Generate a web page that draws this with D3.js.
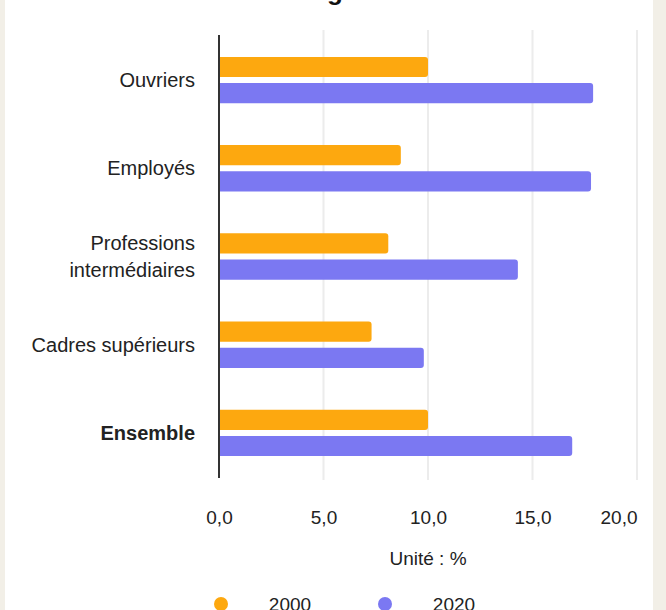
<!DOCTYPE html>
<html>
<head>
<meta charset="utf-8">
<script src="https://cdn.jsdelivr.net/npm/d3@7"></script>
<style>
  body { margin: 0; background: #f2efe7; }
  svg { display: block; font-family: "Liberation Sans", Arial, Helvetica, sans-serif; }
</style>
</head>
<body>
<div id="chart"></div>
<script>
var categories = ["Ouvriers", "Employés", "Professions\nintermédiaires", "Cadres supérieurs", "Ensemble"];
var years = ["2000", "2020"];
var values2000 = [10.0, 8.7, 8.1, 7.3, 10.0];
var values2020 = [17.9, 17.8, 14.3, 9.8, 16.9];
var xTicks = [0, 5, 10, 15, 20];

var colors = { "2000": "#fda80f", "2020": "#7b78f2" };

var svgWidth = 666;
var svgHeight = 610;

var plot = { left: 219, right: 637, top: 36, bottom: 477 };

var svg = d3.select("#chart")
    .append("svg")
    .attr("width", svgWidth)
    .attr("height", svgHeight);

// white card over the beige page
svg.append("rect")
    .attr("x", 5)
    .attr("y", 0)
    .attr("width", 648)
    .attr("height", svgHeight)
    .attr("fill", "#ffffff");

// title, cut off at the top of the picture
svg.append("text")
    .attr("x", 335)
    .attr("y", 0)
    .attr("text-anchor", "middle")
    .attr("font-size", "26px")
    .attr("font-weight", "bold")
    .attr("fill", "#111")
    .text("g");

var data = categories.map(function(c, i) {
    return { cat: c, bold: i === categories.length - 1, vals: [
        { year: "2000", value: values2000[i] },
        { year: "2020", value: values2020[i] }
    ] };
});

var x = d3.scaleLinear()
    .domain([0, 20])
    .range([plot.left, plot.right]);

var y = d3.scaleBand()
    .domain(categories)
    .range([plot.top, plot.bottom])
    .paddingInner(0.474)
    .paddingOuter(0.237);

var ySub = d3.scaleBand()
    .domain(years)
    .range([0, y.bandwidth()])
    .paddingInner(0.23);

// gridlines
svg.append("g")
    .selectAll("line")
    .data(xTicks.slice(1))
    .enter()
    .append("line")
    .attr("x1", d => x(d))
    .attr("x2", d => x(d))
    .attr("y1", plot.top - 6)
    .attr("y2", plot.bottom + 3)
    .attr("stroke", "#ececec")
    .attr("stroke-width", 2);

// x tick labels
var xAxis = d3.axisBottom(x)
    .tickValues(xTicks)
    .tickSize(0)
    .tickFormat(d => d3.format(".1f")(d).replace(".", ","));

var gx = svg.append("g")
    .attr("transform", `translate(0, ${plot.bottom + 30})`)
    .call(xAxis);
gx.select(".domain").remove();
gx.selectAll("text")
    .attr("font-size", "19px")
    .attr("fill", "#222")
    .attr("font-family", "Liberation Sans, Arial, sans-serif")
    .attr("text-anchor", d => d === 20 ? "end" : "middle");

svg.append("text")
    .attr("x", (plot.left + plot.right) / 2)
    .attr("y", 565)
    .attr("text-anchor", "middle")
    .attr("font-size", "19px")
    .attr("fill", "#222")
    .text("Unité : %");

// bars with rounded right end
function barPath(x0, y0, w, h, r) {
    r = Math.min(r, w, h / 2);
    return `M${x0},${y0}H${x0 + w - r}Q${x0 + w},${y0} ${x0 + w},${y0 + r}` +
        `V${y0 + h - r}Q${x0 + w},${y0 + h} ${x0 + w - r},${y0 + h}H${x0}Z`;
}

var groups = svg.append("g")
    .selectAll("g")
    .data(data)
    .enter()
    .append("g")
    .attr("transform", d => `translate(0, ${y(d.cat)})`);

groups.selectAll("path")
    .data(d => d.vals)
    .enter()
    .append("path")
    .attr("d", d => barPath(x(0), ySub(d.year), x(d.value) - x(0), ySub.bandwidth(), 3))
    .attr("fill", d => colors[d.year]);

// category labels
groups.append("text")
    .attr("x", plot.left - 24)
    .attr("text-anchor", "end")
    .attr("font-size", "20px")
    .attr("fill", "#222")
    .attr("font-weight", d => d.bold ? "bold" : "normal")
    .each(function(d) {
        var lines = d.cat.split("\n");
        var mid = y.bandwidth() / 2;
        var el = d3.select(this);
        lines.forEach(function(line, i) {
            el.append("tspan")
                .attr("x", plot.left - 24)
                .attr("y", mid + 7 + (i - (lines.length - 1) / 2) * 27)
                .text(line);
        });
    });

// vertical axis line
svg.append("line")
    .attr("x1", plot.left)
    .attr("x2", plot.left)
    .attr("y1", plot.top - 1)
    .attr("y2", plot.bottom + 1)
    .attr("stroke", "#333")
    .attr("stroke-width", 2);

// legend
var legend = svg.append("g")
    .selectAll("g")
    .data(years)
    .enter()
    .append("g")
    .attr("transform", (d, i) => `translate(${221 + i * 164}, 604)`);

legend.append("circle")
    .attr("r", 7)
    .attr("fill", d => colors[d]);

legend.append("text")
    .attr("x", 69)
    .attr("y", 7)
    .attr("text-anchor", "middle")
    .attr("font-size", "19px")
    .attr("fill", "#222")
    .text(d => d);
</script>
</body>
</html>
